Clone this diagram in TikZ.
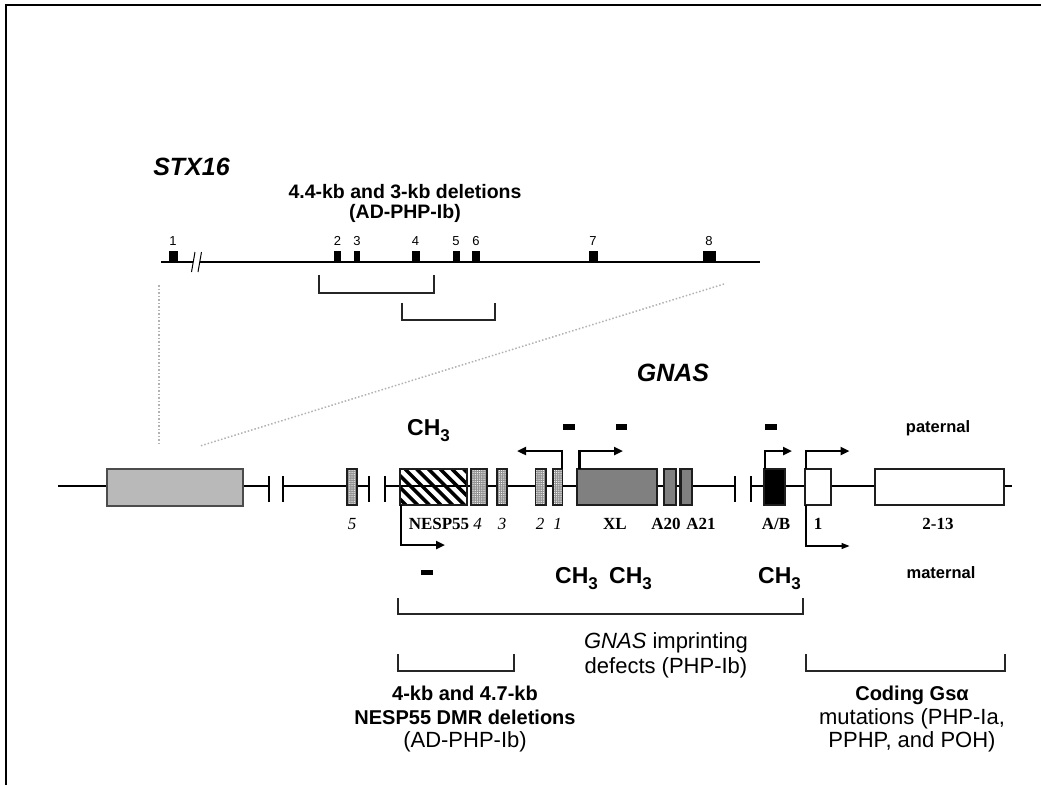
\documentclass[tikz,border=0pt]{standalone}
\usepackage{fontspec}
\setmainfont{Liberation Sans}
\newfontfamily\exonfont{Liberation Serif}
\usetikzlibrary{arrows.meta,patterns.meta}

\definecolor{stxgray}{RGB}{185,185,185}
\definecolor{xlgray}{RGB}{128,128,128}
\definecolor{boxedge}{RGB}{30,30,30}

\tikzset{
  lbl/.style={inner sep=0pt, anchor=base},
  genetitle/.style={lbl, font=\fontsize{25}{25}\selectfont\bfseries\itshape},
  headtxt/.style={lbl, font=\fontsize{19.5}{19.5}\selectfont\bfseries},
  numtxt/.style={lbl, font=\fontsize{13}{13}\selectfont},
  exonlbl/.style={lbl, font=\exonfont\fontsize{17}{17}\selectfont\bfseries},
  exonit/.style={lbl, font=\exonfont\fontsize{17}{17}\selectfont\itshape},
  methtxt/.style={lbl, anchor=base west, font=\fontsize{23}{23}\selectfont\bfseries},
  alleletxt/.style={lbl, font=\fontsize{16.5}{16.5}\selectfont\bfseries},
  foottxt/.style={lbl, font=\fontsize{22}{22}\selectfont},
  footbold/.style={foottxt, font=\fontsize{20}{20}\selectfont\bfseries},
  exonbox/.style={draw=boxedge, line width=2.2pt},
  stipbox/.style={preaction={fill=gray!85},
    preaction={pattern={Dots[distance=2.2pt,radius=0.6pt]}, pattern color=white},
    draw=boxedge, line width=1.8pt},
  brkt/.style={line width=2pt, draw=black!85, line join=miter},
  prom/.style={line width=2.4pt, line join=miter, -{Triangle[length=9pt,width=8pt]}},
  promthin/.style={line width=1.2pt, -{Triangle[length=8pt,width=6pt]}},
  guide/.style={line width=1.5pt, gray!60, dotted},
  chrom/.style={line width=1.3pt},
}
\newcommand{\chme}{CH\raisebox{-0.3em}{\fontsize{17}{17}\selectfont 3}}

\begin{document}
\begin{tikzpicture}[x=1pt,y=-1pt]
  \useasboundingbox (0,0) rectangle (1041,785);

  % Frame (left and top edges only)
  \draw[line width=2pt] (6,785) -- (6,5) -- (1041,5);

  % STX16 map
  \node[genetitle] (stx) at (191.5,175) {STX16};
  \node[headtxt] (deltop) at (405,198) {4.4-kb and 3-kb deletions};
  \node[headtxt] (deltopb) at (405,218) {(AD-PHP-Ib)};

  \draw[chrom] (161,262) -- (193,262);
  \draw[chrom] (200,262) -- (760,262);
  \draw[line width=1pt] (191.5,272) -- (195,252);
  \draw[line width=1pt] (198,272) -- (201.5,252);

  % STX16 exons with their numbers
  \foreach \n/\xc/\w in {1/173/9, 2/337.5/7, 3/357/6.5, 4/415.5/8, 5/456/7, 6/476/8, 7/593/9, 8/709/13} {
    \fill (\xc-\w/2,251) rectangle (\xc+\w/2,262);
    \node[numtxt] (sx\n) at (\xc,245) {\n};
  }

  % Deletions within STX16
  \draw[brkt] (319,275) -- (319,293) -- (434,293) -- (434,275);
  \draw[brkt] (402,303) -- (402,320) -- (495,320) -- (495,303);

  % Zoom guides
  \draw[guide] (159,285) -- (159,446);
  \draw[guide] (724,284) -- (200,446);

  % GNAS locus
  \node[genetitle] (gnas) at (673,381) {GNAS};

  \foreach \a/\b in {58/269, 283/369, 385/735, 751/1012}
    \draw[chrom] (\a,486) -- (\b,486);
  \foreach \t in {269,283,369,385,735,751}
    \draw[chrom] (\t,476) -- (\t,502);

  \draw[exonbox, fill=stxgray, draw=black!70, line width=2pt] (107,469) rectangle (243,506);

  % Antisense exons (stippled)
  \foreach \a/\b in {347/357, 471/487, 497/507, 535.5/546, 553/562.5}
    \draw[stipbox] (\a,469) rectangle (\b,505);

  % NESP55 (hatched)
  \begin{scope}
    \clip (400,469) rectangle (467,505);
    \foreach \k in {0,...,8}
      \draw[line width=3.5pt] (369.9+\k*11.7,469) -- (405.9+\k*11.7,505);
  \end{scope}
  \draw[exonbox] (400,469) rectangle (467,505);

  \draw[exonbox, fill=xlgray, line width=2.6pt] (577,469) rectangle (657,505);
  \draw[exonbox, fill=xlgray] (664,469) rectangle (676,505);
  \draw[exonbox, fill=xlgray] (680.5,469) rectangle (692,505);
  \draw[exonbox, fill=black] (764,469) rectangle (785,505);
  \draw[exonbox, fill=white] (805,469) rectangle (831,505);
  \draw[exonbox, fill=white] (875,469) rectangle (1004,505);

  % Exon labels
  \foreach \n/\xc in {5/352, 4/477.5, 3/502, 2/540, 1/557.5}
    \node[exonit] (as\n) at (\xc,529) {\n};
  \node[exonlbl] (nesp) at (439,529) {NESP55};
  \node[exonlbl] (xl) at (615,529) {XL};
  \node[exonlbl] (a20) at (666,529) {A20};
  \node[exonlbl] (a21) at (701,529) {A21};
  \node[exonlbl] (ab) at (776,529) {A/B};
  \node[exonlbl] (gs1) at (818,529) {1};
  \node[exonlbl] (gs2) at (938,529) {2-13};

  % Promoters
  \draw[prom] (562,469) |- (517,451);
  \draw[prom] (579.5,469) |- (623,451);
  \draw[prom] (765,469) |- (792,451);
  \draw[prom] (806,469) |- (849.5,451);
  \draw[promthin] (806,505) |- (849.5,546);
  \draw[prom] (400.7,505) |- (445,545);

  % Unmethylated marks
  \foreach \x/\y in {569/427, 621.6/427, 771/427, 427/572.5}
    \fill (\x-5.8,\y-2.6) rectangle (\x+5.8,\y+2.6);

  % Methylation
  \node[methtxt] (mpat) at (407,435) {\chme};
  \node[methtxt] (mmat1) at (555,583) {\chme};
  \node[methtxt] (mmat2) at (609,583) {\chme};
  \node[methtxt] (mmat3) at (758,583) {\chme};

  \node[alleletxt] (pat) at (938,432) {paternal};
  \node[alleletxt] (mat) at (941,578) {maternal};

  % Defects below the locus
  \draw[brkt] (398,598) -- (398,614) -- (803,614) -- (803,598);
  \node[foottxt] (imp1) at (666,648) {\textit{GNAS} imprinting};
  \node[foottxt] (imp2) at (666,673) {defects (PHP-Ib)};

  \draw[brkt] (398,654) -- (398,671) -- (514,671) -- (514,654);
  \draw[brkt] (806,654) -- (806,671) -- (1005,671) -- (1005,654);

  \node[footbold] (dmr1) at (465,700) {4-kb and 4.7-kb};
  \node[footbold] (dmr2) at (465,724) {NESP55 DMR deletions};
  \node[foottxt] (dmr3) at (465,747) {(AD-PHP-Ib)};

  \node[footbold] (gsa1) at (912,700) {Coding Gsα};
  \node[foottxt] (gsa2) at (912,724) {mutations (PHP-Ia,};
  \node[foottxt] (gsa3) at (912,747) {PPHP, and POH)};
\end{tikzpicture}
\end{document}
